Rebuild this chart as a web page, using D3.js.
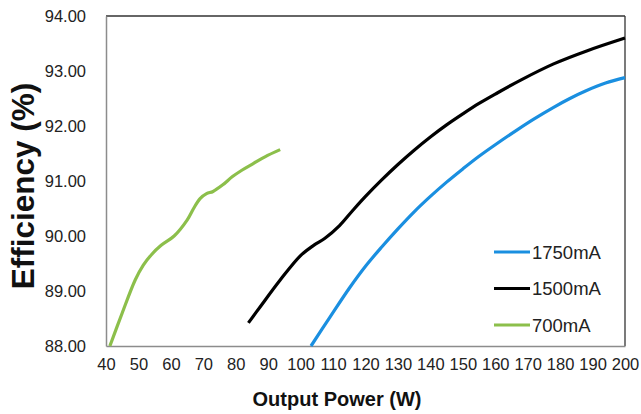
<!DOCTYPE html>
<html>
<head>
<meta charset="utf-8">
<script src="https://cdn.jsdelivr.net/npm/d3@7"></script>
<style>
body { margin: 0; background: #fff; }
text { font-family: "Liberation Sans", Arial, sans-serif; }
</style>
</head>
<body>
<div id="chart-area"></div>
<script>
// Data
var seriesNames = ["1750mA", "1500mA", "700mA"];
var seriesColors = ["#1a8fe0", "#000000", "#8cbf4b"];

var power1750 = [103.2, 109, 115, 120, 125, 130, 135, 140, 145, 150, 155, 160, 167, 172, 178, 183, 188, 194, 200];
var eff1750 = [88.0, 88.52, 89.05, 89.45, 89.8, 90.13, 90.44, 90.72, 90.98, 91.22, 91.45, 91.66, 91.94, 92.13, 92.34, 92.5, 92.64, 92.78, 92.88];

var power1500 = [83.9, 87.5, 93.7, 99.9, 104, 107.5, 112, 116, 120, 125, 130, 135, 140, 145, 150, 155, 160, 168, 178, 188.4, 200];
var eff1500 = [88.42, 88.71, 89.2, 89.64, 89.83, 89.96, 90.19, 90.46, 90.72, 91.02, 91.3, 91.56, 91.8, 92.02, 92.22, 92.41, 92.58, 92.84, 93.13, 93.37, 93.6];

var power700 = [41.2, 45, 49, 51.5, 54, 57, 61, 65, 67, 69, 71, 73, 76, 79, 82, 85.5, 89, 93.7];
var eff700 = [88.0, 88.6, 89.2, 89.47, 89.66, 89.83, 90.0, 90.29, 90.5, 90.68, 90.77, 90.81, 90.93, 91.08, 91.2, 91.32, 91.44, 91.57];

var xTicks = [40, 50, 60, 70, 80, 90, 100, 110, 120, 130, 140, 150, 160, 170, 180, 190, 200];
var yTicks = [88, 89, 90, 91, 92, 93, 94];

// Chart area
var W = 641, H = 414;
var margin = { left: 106, right: 16, top: 16, bottom: 68 };
var width = W - margin.left - margin.right;
var height = H - margin.top - margin.bottom;

var svg = d3.select("#chart-area")
	.append("svg")
	.attr("width", W)
	.attr("height", H);

var g = svg.append("g")
	.attr("transform", "translate(" + margin.left + "," + margin.top + ")");

var x = d3.scaleLinear().domain([40, 200]).range([0, width]);
var y = d3.scaleLinear().domain([88, 94]).range([height, 0]);

// plot border (top/right dark, left/bottom grey axes)
g.append("line").attr("x1", 0).attr("x2", width).attr("y1", 0).attr("y2", 0)
	.attr("stroke", "#333").attr("stroke-width", 1.3);
g.append("line").attr("x1", width).attr("x2", width).attr("y1", 0).attr("y2", height)
	.attr("stroke", "#333").attr("stroke-width", 1.3);

var xAxis = g.append("g")
	.attr("transform", "translate(0," + height + ")")
	.call(d3.axisBottom(x).tickValues(xTicks).tickSize(0).tickPadding(12).tickFormat(d3.format("d")));
var yAxis = g.append("g")
	.call(d3.axisLeft(y).tickValues(yTicks).tickSize(0).tickPadding(20).tickFormat(d3.format(".2f")));

[xAxis, yAxis].forEach(function (a) {
	a.select(".domain").attr("stroke", "#8c8c8c").attr("stroke-width", 1.5);
	a.selectAll("text").attr("font-size", "16.5px").attr("fill", "#222")
		.style("font-family", "'Liberation Sans', Arial, sans-serif");
});

// Lines
var series = [
	{ name: seriesNames[0], color: seriesColors[0], xs: power1750, ys: eff1750 },
	{ name: seriesNames[1], color: seriesColors[1], xs: power1500, ys: eff1500 },
	{ name: seriesNames[2], color: seriesColors[2], xs: power700, ys: eff700 }
];

var line = d3.line()
	.x(d => x(d[0]))
	.y(d => y(d[1]))
	.curve(d3.curveCatmullRom.alpha(0.5));

g.append("g").selectAll("path")
	.data(series)
	.enter()
	.append("path")
	.attr("d", s => line(s.xs.map((v, i) => [v, s.ys[i]])))
	.attr("fill", "none")
	.attr("stroke", s => s.color)
	.attr("stroke-width", 3.2)
	.attr("stroke-linecap", "butt");

// Legend
var legend = svg.append("g").attr("transform", "translate(494,252)");
var items = legend.selectAll("g")
	.data(series)
	.enter()
	.append("g")
	.attr("transform", (d, i) => "translate(0," + (i * 36.5) + ")");
items.append("line")
	.attr("x1", 0).attr("x2", 36).attr("y1", 0).attr("y2", 0)
	.attr("stroke", d => d.color).attr("stroke-width", 3.2);
items.append("text")
	.attr("x", 38).attr("y", 6.5)
	.attr("font-size", "18.5px").attr("fill", "#222")
	.text(d => d.name);

// Axis titles
svg.append("text")
	.attr("x", 337).attr("y", 406)
	.attr("text-anchor", "middle")
	.attr("font-size", "20px")
	.attr("font-weight", "bold")
	.attr("fill", "#111")
	.text("Output Power (W)");

svg.append("text")
	.attr("transform", "translate(34,186) rotate(-90)")
	.attr("text-anchor", "middle")
	.attr("font-size", "31.5px")
	.attr("font-weight", "bold")
	.attr("fill", "#111")
	.text("Efficiency (%)");
</script>
</body>
</html>
